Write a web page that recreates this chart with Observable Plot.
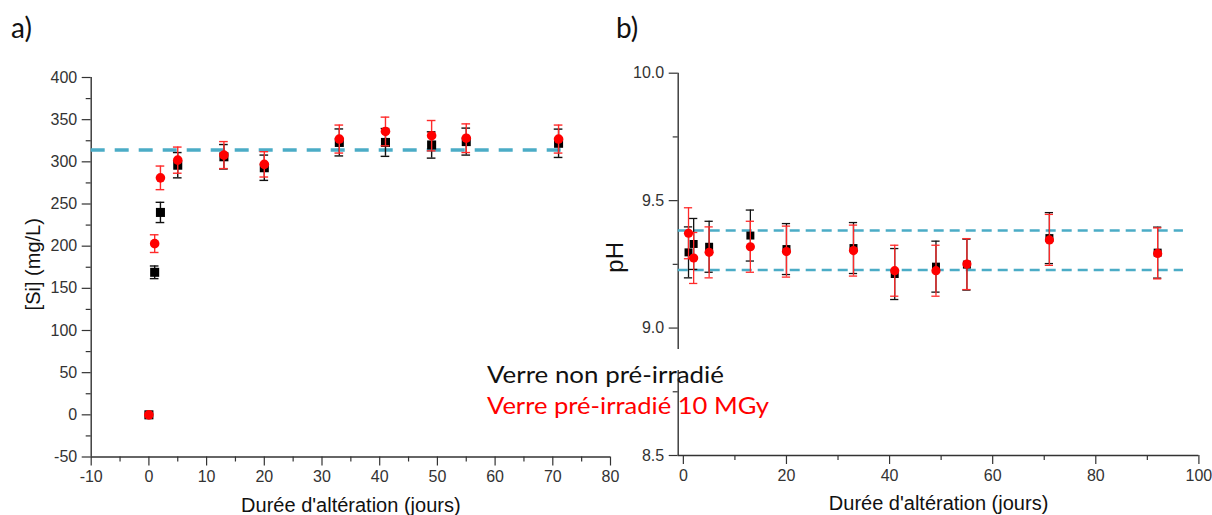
<!DOCTYPE html>
<html><head><meta charset="utf-8">
<script src="https://cdn.jsdelivr.net/npm/d3@7"></script>
<script src="https://cdn.jsdelivr.net/npm/@observablehq/plot@0.6"></script>
<style>
html,body{margin:0;padding:0;background:#fff;}
#wrap{position:relative;width:1212px;height:515px;overflow:hidden;background:#fff;}
#wrap > svg{position:absolute;top:0;}
</style></head><body>
<div id="wrap"></div>
<script>
// ---- Panel a) : [Si] vs time ----
const siDays      = [0, 1, 2, 5, 13, 20, 33, 41, 49, 55, 71];
const siBlack     = [0, 169, 240, 296, 306, 293, 323, 323, 320, 324, 322];
const siBlackErr  = [0, 7.5, 12, 15, 14.5, 15, 16, 16.5, 15.6, 16, 16.8];
const siRed       = [0, 203, 281, 302, 308, 297, 327, 336, 331, 328, 327];
const siRedErr    = [0, 10.5, 14, 15.5, 16, 15, 16.6, 17, 18, 17, 16.6];
const siPlateau   = [314];
const siXTicks    = [-10, 0, 10, 20, 30, 40, 50, 60, 70, 80];
const siXMinor    = [-5, 5, 15, 25, 35, 45, 55, 65, 75];
const siYTicks    = [-50, 0, 50, 100, 150, 200, 250, 300, 350, 400];
const siYMinor    = [-25, 25, 75, 125, 175, 225, 275, 325, 375];

// ---- Panel b) : pH vs time ----
const phDays      = [1, 2, 5, 13, 20, 33, 41, 49, 55, 71, 92];
const phBlack     = [9.297, 9.33, 9.319, 9.363, 9.31, 9.314, 9.212, 9.241, 9.249, 9.353, 9.296];
const phBlackErr  = [0.1, 0.1, 0.1, 0.1, 0.1, 0.1, 0.1, 0.1, 0.1, 0.1, 0.1];
const phRed       = [9.372, 9.275, 9.297, 9.319, 9.30, 9.304, 9.225, 9.225, 9.251, 9.346, 9.293];
const phRedErr    = [0.1, 0.1, 0.1, 0.1, 0.1, 0.1, 0.1, 0.1, 0.1, 0.1, 0.1];
const phLimits    = [9.383, 9.228];
const phXTicks    = [0, 20, 40, 60, 80, 100];
const phXMinor    = [10, 30, 50, 70, 90];
const phYTicks    = [8.5, 9.0, 9.5, 10.0];
const phYMinor    = [8.75, 9.25, 9.75];

const xTitle = "Durée d'altération (jours)";
const legendBlack = "Verre non pré-irradié";
const legendRed = "Verre pré-irradié 10 MGy";

const rows = (days, vals, errs) => days.map((d, i) => ({day: d, v: vals[i], e: errs[i]}));
const siB = rows(siDays, siBlack, siBlackErr);
const siR = rows(siDays, siRed, siRedErr);
const phB = rows(phDays, phBlack, phBlackErr);
const phR = rows(phDays, phRed, phRedErr);

const AX = "#333";
const RED = "#ff0000";
const REDBAR = "#ff2a2a";
const DASH = "#4bacc6";
const font = "'Liberation Sans', Arial, sans-serif";

function errMarks(data, color, capHalf, sw) {
  return [
    Plot.ruleX(data, {x: "day", y1: d => d.v - d.e, y2: d => d.v + d.e, stroke: color, strokeWidth: sw}),
    Plot.ruleY(data, {y: d => d.v + d.e, x1: d => d.day - capHalf, x2: d => d.day + capHalf, stroke: color, strokeWidth: sw}),
    Plot.ruleY(data, {y: d => d.v - d.e, x1: d => d.day - capHalf, x2: d => d.day + capHalf, stroke: color, strokeWidth: sw})
  ];
}

const left = Plot.plot({
  width: 640, height: 515,
  marginLeft: 90.7, marginRight: 30, marginTop: 77, marginBottom: 58.5,
  style: {background: "transparent", overflow: "visible", fontFamily: font},
  x: {domain: [-10, 80]},
  y: {domain: [-50, 400]},
  marks: [
    Plot.axisY(siYTicks, {tickSize: 9, tickPadding: 5, fontSize: 16, color: AX, strokeWidth: 1.2, tickFormat: d => String(d), label: null}),
    Plot.axisY(siYMinor, {tickSize: 5, tickFormat: () => "", color: AX, strokeWidth: 1.2, label: null}),
    Plot.axisX(siXTicks, {tickSize: 9, tickPadding: 5, fontSize: 16, color: AX, strokeWidth: 1.2, tickFormat: d => String(d), label: null}),
    Plot.axisX(siXMinor, {tickSize: 5, tickFormat: () => "", color: AX, strokeWidth: 1.2, label: null}),
    Plot.ruleX([-10], {y1: -50, y2: 400, stroke: AX, strokeWidth: 1.4}),
    Plot.ruleY([-50], {x1: -10, x2: 80, stroke: AX, strokeWidth: 1.4}),
    Plot.ruleY(siPlateau, {x1: -10, x2: 73, stroke: DASH, strokeWidth: 3.5, strokeDasharray: "14,10"}),
    ...errMarks(siB, "#111", 0.75, 1.4),
    Plot.dot(siB, {x: "day", y: "v", symbol: "square", r: 5.1, fill: "#000", stroke: null}),
    ...errMarks(siR, REDBAR, 0.75, 1.4),
    Plot.dot(siR, {x: "day", y: "v", r: 4.8, fill: RED, stroke: null}),
    Plot.text(["[Si] (mg/L)"], {text: d => d, frameAnchor: "left", dx: -58, dy: -3, rotate: -90, fontSize: 20, fill: "#111", lineAnchor: "middle", textAnchor: "middle"}),
    Plot.text([xTitle], {text: d => d, frameAnchor: "bottom", dy: 55, fontSize: 20, fill: "#111", lineAnchor: "bottom"})
  ]
});
left.style.left = "0px";

const right = Plot.plot({
  width: 612, height: 515,
  marginLeft: 77.7, marginRight: 13.6, marginTop: 72.7, marginBottom: 60,
  style: {background: "transparent", overflow: "visible", fontFamily: font},
  x: {domain: [-1, 100]},
  y: {domain: [8.5, 10]},
  marks: [
    Plot.axisY(phYTicks, {tickSize: 9, tickPadding: 5, fontSize: 16, color: AX, strokeWidth: 1.2, tickFormat: d3.format(".1f"), label: null}),
    Plot.axisY(phYMinor, {tickSize: 5, tickFormat: () => "", color: AX, strokeWidth: 1.2, label: null}),
    Plot.axisX(phXTicks, {tickSize: 9, tickPadding: 5, fontSize: 16, color: AX, strokeWidth: 1.2, tickFormat: d => String(d), label: null}),
    Plot.axisX(phXMinor, {tickSize: 5, tickFormat: () => "", color: AX, strokeWidth: 1.2, label: null}),
    Plot.ruleX([-1], {y1: 8.5, y2: 10, stroke: AX, strokeWidth: 1.4}),
    Plot.ruleY([8.5], {x1: -1, x2: 100, stroke: AX, strokeWidth: 1.4}),
    Plot.ruleY(phLimits, {x1: -1, x2: 97, stroke: DASH, strokeWidth: 2.6, strokeDasharray: "10,6"}),
    ...errMarks(phB, "#111", 0.8, 1.3),
    Plot.dot(phB, {x: "day", y: "v", symbol: "square", r: 4.5, fill: "#000", stroke: null}),
    ...errMarks(phR, REDBAR, 0.8, 1.3),
    Plot.dot(phR, {x: "day", y: "v", r: 4.6, fill: RED, stroke: null}),
    Plot.text(["pH"], {text: d => d, frameAnchor: "left", dx: -63, dy: -7, rotate: -90, fontSize: 24, fill: "#111", lineAnchor: "middle", textAnchor: "middle"}),
    Plot.text([xTitle], {text: d => d, frameAnchor: "bottom", dy: 54, fontSize: 20, fill: "#111", lineAnchor: "bottom"})
  ]
});
right.style.left = "600px";

const wrap = document.getElementById("wrap");
wrap.appendChild(left);
wrap.appendChild(right);

// overlay: panel letters and legend text box
const ov = d3.create("svg").attr("width", 1212).attr("height", 515)
  .style("position", "absolute").style("left", "0px").style("top", "0px")
  .style("font-family", "Lato, 'Open Sans', sans-serif");
ov.append("rect").attr("x", 480).attr("y", 349).attr("width", 250).attr("height", 21).attr("fill", "#fff");
ov.append("text").attr("x", 11).attr("y", 38).attr("font-size", 28).attr("fill", "#111").text("a)");
ov.append("text").attr("x", 616).attr("y", 38).attr("font-size", 28).attr("fill", "#111").text("b)");
ov.append("text").attr("x", 487).attr("y", 383).attr("font-size", 24).attr("fill", "#111")
  .attr("textLength", 237).attr("lengthAdjust", "spacingAndGlyphs").text(legendBlack);
ov.append("text").attr("x", 487).attr("y", 413.5).attr("font-size", 24).attr("fill", RED)
  .attr("textLength", 282).attr("lengthAdjust", "spacingAndGlyphs").text(legendRed);
wrap.appendChild(ov.node());
</script>
</body></html>
